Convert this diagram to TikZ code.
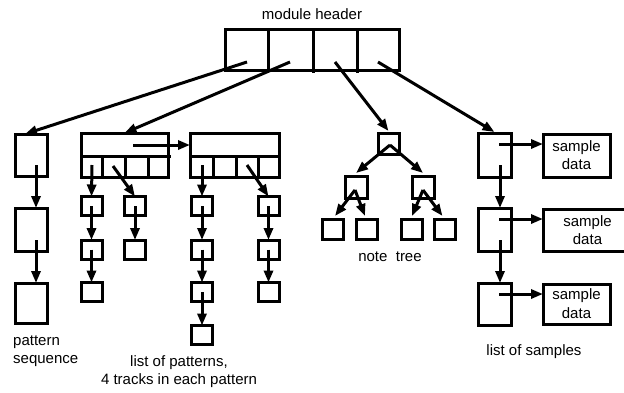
\documentclass[tikz,border=0pt]{standalone}
\usepackage{fontspec}
\setmainfont{Liberation Sans}
\usetikzlibrary{arrows.meta}
\begin{document}
\begin{tikzpicture}[x=1pt,y=-1pt,
  bx/.style={draw,line width=3pt,rectangle,inner sep=0pt,outer sep=0pt},
  trk/.style={bx,minimum width=21pt,minimum height=19pt},
  leaf/.style={bx,minimum width=21pt,minimum height=20pt},
  arr/.style={line width=3pt,-{Triangle[length=12pt,width=9pt]}},
  ln/.style={line width=3pt},
  lbl/.style={inner sep=0pt,font=\fontsize{15}{18}\selectfont},
  sdata/.style={bx,align=center,font=\fontsize{15}{18}\selectfont}]
\useasboundingbox (0,0) rectangle (624,392);
\clip (0,0) rectangle (624,392);

% module header
\node[lbl] (title) at (312,14) {module header};
\node[bx,minimum width=174pt,minimum height=41pt] (hdr) at (312,49.5) {};
\draw[ln] (268,29) -- (268,72);
\draw[ln] (313,29) -- (313,73);
\draw[ln] (357,29) -- (357,73);
\coordinate (h1s) at (247,62);
\coordinate (h2s) at (290,62);
\coordinate (h3s) at (335,62);
\coordinate (h4s) at (378,62);

% pattern sequence
\node[bx,minimum width=32pt,minimum height=42pt] (ps1) at (31,155) {};
\node[bx,minimum width=32pt,minimum height=43pt] (ps2) at (31,229.5) {};
\node[bx,minimum width=32pt,minimum height=40pt] (ps3) at (31,303) {};
\coordinate (ps1o) at (36,165);
\coordinate (ps2o) at (36,240);
\node[lbl,anchor=west,align=left] (pslbl) at (13,351.5) {pattern\\sequence};

% patterns
\node[bx,minimum width=87pt,minimum height=44pt] (pat1) at (124.5,155) {};
\draw[ln] (81,156) -- (171,156);
\draw[ln] (102,156) -- (102,177);
\draw[ln] (125,156) -- (125,177);
\draw[ln] (148,156) -- (148,177);
\node[bx,minimum width=89pt,minimum height=44pt] (pat2) at (234.5,155) {};
\draw[ln] (190,156) -- (279,156);
\draw[ln] (213,156) -- (213,177);
\draw[ln] (236,156) -- (236,177);
\draw[ln] (258,156) -- (258,177);
\coordinate (p1o) at (133,145);
\coordinate (p1a) at (92,165);
\coordinate (p1b) at (113,166);
\coordinate (p2a) at (202,165);
\coordinate (p2b) at (247,165);

% tracks
\node[trk] (a1) at (91.5,206) {};
\node[trk] (a2) at (91.5,249.5) {};
\node[trk] (a3) at (91.5,292) {};
\node[trk] (b1) at (135,206) {};
\node[trk] (b2) at (135,249.5) {};
\node[trk] (c1) at (202,206) {};
\node[trk] (c2) at (202,249.5) {};
\node[trk] (c3) at (202,292) {};
\node[trk] (c4) at (202,335) {};
\node[trk] (d1) at (268.5,206) {};
\node[trk] (d2) at (268.5,249.5) {};
\node[trk] (d3) at (268.5,292) {};
\node[lbl,align=center] (pllbl) at (179,372) {list of patterns,\\4 tracks in each pattern};

% note tree
\node[bx,minimum width=21pt,minimum height=21pt] (root) at (388.5,143.5) {};
\node[bx,minimum width=22pt,minimum height=22pt] (lc) at (356,187) {};
\node[bx,minimum width=22pt,minimum height=22pt] (rc) at (423,187) {};
\node[leaf] (l1) at (333,229) {};
\node[leaf] (l2) at (367,229) {};
\node[leaf] (l3) at (412,229) {};
\node[leaf] (l4) at (444.5,229) {};
\coordinate (ra) at (390,145);
\coordinate (la) at (355,190);
\coordinate (rca) at (423,190);
\node[lbl] (ntlbl) at (390,257) {note\ \ tree};

% samples
\node[bx,minimum width=33pt,minimum height=44pt] (sl1) at (494.5,155) {};
\node[bx,minimum width=33pt,minimum height=43pt] (sl2) at (494.5,229.5) {};
\node[bx,minimum width=33pt,minimum height=42pt] (sl3) at (494.5,304) {};
\node[sdata,minimum width=67pt,minimum height=43pt] (sd1) at (576.5,155.5) {sample\\data};
\node[sdata,minimum width=89pt,minimum height=42pt] (sd2) at (587.5,230) {sample\\data};
\node[sdata,minimum width=67pt,minimum height=40pt] (sd3) at (576.5,304) {sample\\[1pt]data};
\coordinate (s1h) at (499,144);
\coordinate (s2h) at (499,219);
\coordinate (s3h) at (499,294);
\coordinate (s1v) at (500,165);
\coordinate (s2v) at (500,240);
\node[lbl] (sllbl) at (534,352) {list of samples};

% connectors
\draw[arr] (h1s) -- ([xshift=10pt]ps1.north west);
\draw[arr] (h2s) -- (pat1.north);
\draw[arr] (h3s) -- ([yshift=2pt]root.north);
\draw[arr] (h4s) -- ([yshift=1pt]sl1.north);

\draw[arr] (ps1o) -- ([xshift=5pt]ps2.north);
\draw[arr] (ps2o) -- ([xshift=5pt]ps3.north);

\draw[arr] (p1o) -- (p1o -| pat2.west);
\draw[arr] (p1a) -- (a1.north);
\draw[arr] (p1b) -- (b1.north);
\draw[arr] (p2a) -- (c1.north);
\draw[arr] (p2b) -- (d1.north);
\draw[arr] (a1.center) -- (a2.north);
\draw[arr] (a2.center) -- (a3.north);
\draw[arr] (b1.center) -- (b2.north);
\draw[arr] (c1.center) -- (c2.north);
\draw[arr] (c2.center) -- (c3.north);
\draw[arr] (c3.center) -- (c4.north);
\draw[arr] (d1.center) -- (d2.north);
\draw[arr] (d2.center) -- (d3.north);

\draw[arr] (ra) -- ([yshift=3pt]lc.north);
\draw[arr] (ra) -- ([yshift=3pt]rc.north);
\draw[arr] (la) -- ([xshift=2pt,yshift=3pt]l1.north);
\draw[arr] (la) -- ([xshift=-2pt,yshift=3pt]l2.north);
\draw[arr] (rca) -- ([yshift=3pt]l3.north);
\draw[arr] (rca) -- ([xshift=-2pt,yshift=3pt]l4.north);

\draw[arr] (s1h) -- (s1h -| sd1.west);
\draw[arr] (s2h) -- (s2h -| sd2.west);
\draw[arr] (s3h) -- (s3h -| sd3.west);
\draw[arr] (s1v) -- ([xshift=5.5pt]sl2.north);
\draw[arr] (s2v) -- ([xshift=5.5pt]sl3.north);
\end{tikzpicture}
\end{document}
